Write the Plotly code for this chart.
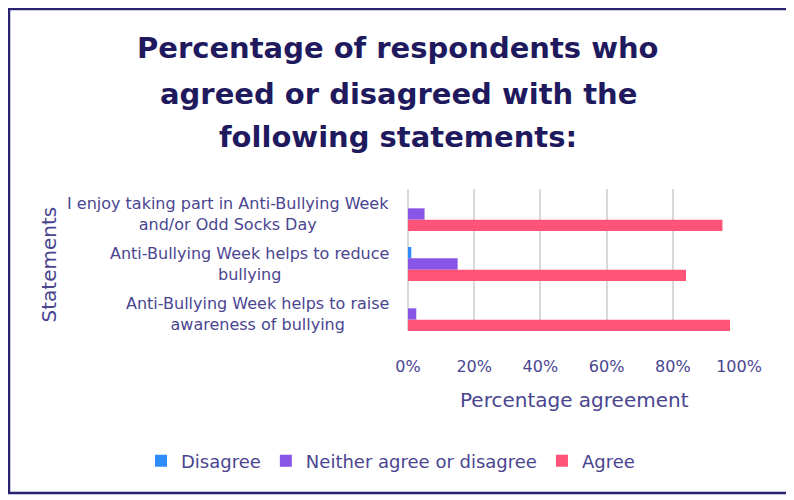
import plotly.graph_objects as go

statements = [
    "I enjoy taking part in Anti-Bullying Week<br>and/or Odd Socks Day",
    "Anti-Bullying Week helps to reduce<br>bullying",
    "Anti-Bullying Week helps to raise<br>awareness of bullying",
]
disagree = [0.0, 1.0, 0.0]
neither = [5.0, 15.0, 2.5]
agree = [95.0, 84.0, 97.3]

series_names = ["Disagree", "Neither agree or disagree", "Agree"]
series_values = [disagree, neither, agree]
series_colors = ["#2f8cff", "#8855e6", "#ff5477"]

tick_vals = [0, 20, 40, 60, 80, 100]
tick_text = ["0%", "20%", "40%", "60%", "80%", "100%"]

title_lines = ["Percentage of respondents who", "agreed or disagreed with the", "following statements:"]

FONT = "DejaVu Sans"
TXT = "#4a4590"
TITLE_C = "#1f1a5e"

fig = go.Figure()
for name, vals, col in zip(series_names, series_values, series_colors):
    fig.add_trace(go.Bar(y=statements, x=vals, name=name, orientation="h",
                         marker=dict(color=col, line=dict(width=0))))

# page body has an 8px margin; work in page coordinates and convert
OFF = 8
W, H = 794 - OFF, 500 - OFF
L, R, T, B = 408 - OFF, 739 - OFF, 189 - OFF, 331 - OFF
PW, PH = R - L, B - T

def px(x):
    return (x - OFF - L) / PW

def py(y):
    return (B - (y - OFF)) / PH

annotations = [
    dict(text="Statements", textangle=-90, xref="paper", yref="paper",
         x=px(48.5), y=py(265), xanchor="center", yanchor="middle",
         showarrow=False, font=dict(size=20, color=TXT)),
    dict(text="Percentage agreement", xref="paper", yref="paper",
         x=px(574), y=py(400), xanchor="center", yanchor="middle",
         showarrow=False, font=dict(size=20, color=TXT)),
]
for line, yc in zip(title_lines, [48, 94, 137]):
    annotations.append(dict(text="<b>%s</b>" % line, xref="paper", yref="paper",
                            x=px(398), y=py(yc), xanchor="center", yanchor="middle",
                            showarrow=False, font=dict(size=29, color=TITLE_C)))
for s in statements:
    annotations.append(dict(text=s, xref="paper", yref="y", x=px(391), y=s,
                            xanchor="right", yanchor="middle", align="center",
                            showarrow=False, font=dict(size=16, color=TXT)))

fig.update_layout(
    width=W, height=H,
    margin=dict(l=L, r=W - R, t=T, b=H - B, autoexpand=False),
    paper_bgcolor="white", plot_bgcolor="white",
    barmode="group", bargap=0.32, bargroupgap=0,
    font=dict(family=FONT, color=TXT, size=16),
    showlegend=True,
    legend=dict(orientation="h", xref="paper", yref="paper",
                x=px(141), xanchor="left", y=py(461), yanchor="middle",
                font=dict(size=18, color=TXT), traceorder="normal", itemwidth=30),
    xaxis=dict(range=[0, 100], tickvals=tick_vals, ticktext=tick_text, automargin=False,
               showgrid=True, gridcolor="#d9d9d9", gridwidth=1.5,
               zeroline=True, zerolinecolor="#d9d9d9", zerolinewidth=1.5,
               showline=False, ticks="", ticklabelstandoff=24,
               tickfont=dict(size=16, color=TXT)),
    yaxis=dict(range=[2.34, -0.5], showgrid=False, showline=False, ticks="",
               showticklabels=False, automargin=False),
    shapes=[dict(type="rect", xref="paper", yref="paper",
                 x0=px(9), x1=px(788), y0=py(493), y1=py(9),
                 line=dict(color="#2a2470", width=2.5))],
    annotations=annotations,
)
fig.write_html("out.html")
